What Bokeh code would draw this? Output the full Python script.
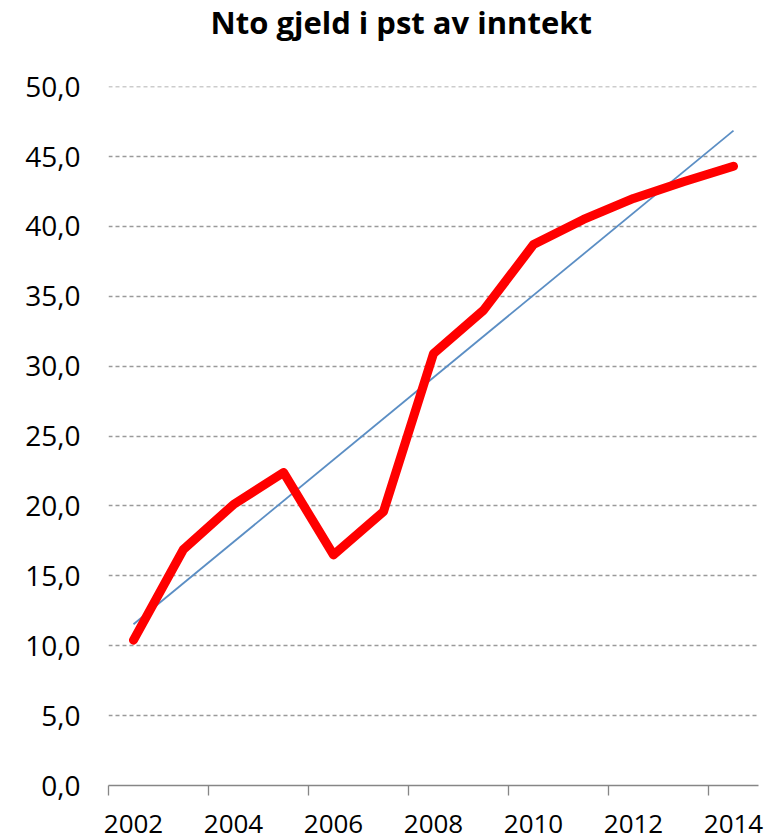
import numpy as np
from bokeh.plotting import figure
from bokeh.models import Range1d, FixedTicker, Title
from bokeh.embed import file_html
from bokeh.resources import INLINE

# ---- data ----
title_text = "Nto gjeld i pst av inntekt"
years = [2002, 2003, 2004, 2005, 2006, 2007, 2008, 2009, 2010, 2011, 2012, 2013, 2014]
debt_pct = [10.4, 16.9, 20.1, 22.4, 16.5, 19.6, 30.9, 34.0, 38.7, 40.5, 42.0, 43.2, 44.3]
x_tick_years = [2002, 2004, 2006, 2008, 2010, 2012, 2014]
y_ticks = [0, 5, 10, 15, 20, 25, 30, 35, 40, 45, 50]

# linear trend (Excel-style trendline) from the series
slope, intercept = np.polyfit(np.arange(len(years)), debt_pct, 1)
trend_x = [years[0], years[-1]]
trend_y = [intercept, intercept + slope * (len(years) - 1)]

p = figure(width=769, height=840, output_backend="svg", toolbar_location=None,
           x_range=Range1d(years[0] - 0.5, years[-1] + 0.5),
           y_range=Range1d(0, 50.01),
           min_border_left=108, min_border_right=11, min_border_top=85,
           min_border_bottom=55)
p.outline_line_color = None
p.background_fill_color = "white"
p.border_fill_color = "white"

# trailing empty line keeps the title up near the top edge
p.title = Title(text=title_text + "\n ", align="left", offset=102,
                vertical_align="top",
                text_font="Open Sans", text_font_size="31px",
                text_font_style="bold", text_color="black", standoff=0)

# lines
p.line(trend_x, trend_y, line_color="#5B8EC4", line_width=1.8)
p.line(years, debt_pct, line_color="#FF0000", line_width=9,
       line_join="round", line_cap="round")

# x axis
xa = p.xaxis[0]
xa.ticker = FixedTicker(ticks=x_tick_years,
                        minor_ticks=[y - 0.5 for y in x_tick_years])
xa.axis_line_color = "#868686"
xa.axis_line_width = 1.3
xa.major_tick_line_color = None
xa.major_tick_out = 0
xa.major_tick_in = 0
xa.minor_tick_line_color = "#868686"
xa.minor_tick_line_width = 1.3
xa.minor_tick_out = 10
xa.minor_tick_in = 0
xa.major_label_text_font = "Open Sans"
xa.major_label_text_font_size = "26px"
xa.major_label_text_color = "black"
xa.major_label_standoff = 19

# y axis
ya = p.yaxis[0]
ya.ticker = FixedTicker(ticks=y_ticks)
ya.major_label_overrides = {t: f"{t:.1f}".replace(".", ",") for t in y_ticks}
ya.axis_line_color = None
ya.major_tick_line_color = None
ya.minor_tick_line_color = None
ya.major_label_text_font = "Open Sans"
ya.major_label_text_font_size = "28px"
ya.major_label_text_color = "black"
ya.major_label_standoff = 22

# grid
p.xgrid.grid_line_color = None
p.ygrid.grid_line_color = "#9A9A9A"
p.ygrid.grid_line_dash = "4 3"
p.ygrid.grid_line_width = 1.3

open("out.html", "w").write(file_html(p, INLINE))
